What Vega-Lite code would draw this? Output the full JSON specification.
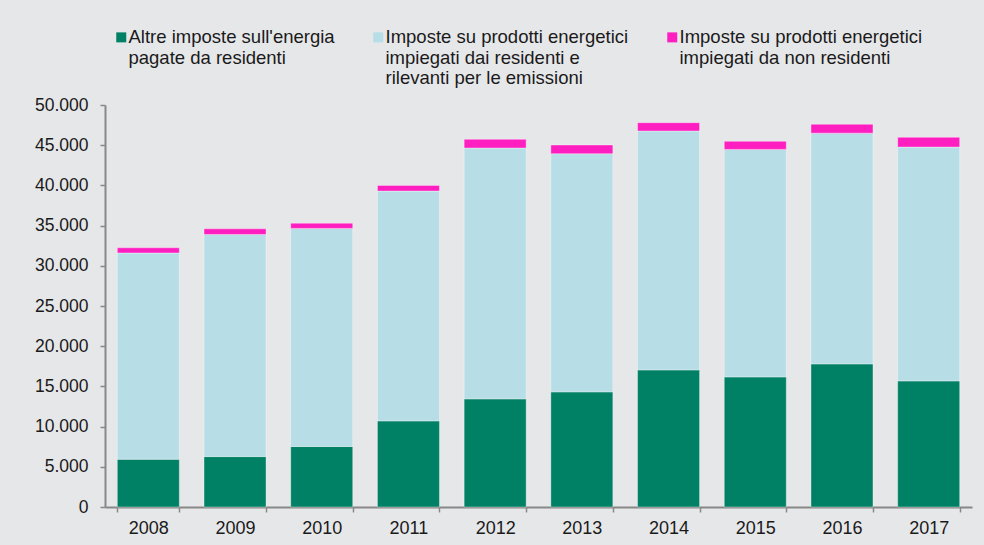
{
  "$schema": "https://vega.github.io/schema/vega-lite/v6.json",
  "width": 867,
  "height": 402,
  "autosize": {"type": "none"},
  "padding": {"left": 105, "top": 105, "right": 12, "bottom": 38},
  "background": "#E6E7E9",
  "data": {
    "values": [
      {"anno": "2008", "serie": "Altre imposte sull'energia|pagate da residenti| ", "ord": 1, "valore": 5940},
      {"anno": "2008", "serie": "Imposte su prodotti energetici|impiegati dai residenti e|rilevanti per le emissioni", "ord": 2, "valore": 25660},
      {"anno": "2008", "serie": "Imposte su prodotti energetici|impiegati da non residenti| ", "ord": 3, "valore": 640},
      {"anno": "2009", "serie": "Altre imposte sull'energia|pagate da residenti| ", "ord": 1, "valore": 6270},
      {"anno": "2009", "serie": "Imposte su prodotti energetici|impiegati dai residenti e|rilevanti per le emissioni", "ord": 2, "valore": 27630},
      {"anno": "2009", "serie": "Imposte su prodotti energetici|impiegati da non residenti| ", "ord": 3, "valore": 700},
      {"anno": "2010", "serie": "Altre imposte sull'energia|pagate da residenti| ", "ord": 1, "valore": 7520},
      {"anno": "2010", "serie": "Imposte su prodotti energetici|impiegati dai residenti e|rilevanti per le emissioni", "ord": 2, "valore": 27130},
      {"anno": "2010", "serie": "Imposte su prodotti energetici|impiegati da non residenti| ", "ord": 3, "valore": 650},
      {"anno": "2011", "serie": "Altre imposte sull'energia|pagate da residenti| ", "ord": 1, "valore": 10710},
      {"anno": "2011", "serie": "Imposte su prodotti energetici|impiegati dai residenti e|rilevanti per le emissioni", "ord": 2, "valore": 28590},
      {"anno": "2011", "serie": "Imposte su prodotti energetici|impiegati da non residenti| ", "ord": 3, "valore": 700},
      {"anno": "2012", "serie": "Altre imposte sull'energia|pagate da residenti| ", "ord": 1, "valore": 13450},
      {"anno": "2012", "serie": "Imposte su prodotti energetici|impiegati dai residenti e|rilevanti per le emissioni", "ord": 2, "valore": 31200},
      {"anno": "2012", "serie": "Imposte su prodotti energetici|impiegati da non residenti| ", "ord": 3, "valore": 1080},
      {"anno": "2013", "serie": "Altre imposte sull'energia|pagate da residenti| ", "ord": 1, "valore": 14320},
      {"anno": "2013", "serie": "Imposte su prodotti energetici|impiegati dai residenti e|rilevanti per le emissioni", "ord": 2, "valore": 29620},
      {"anno": "2013", "serie": "Imposte su prodotti energetici|impiegati da non residenti| ", "ord": 3, "valore": 1080},
      {"anno": "2014", "serie": "Altre imposte sull'energia|pagate da residenti| ", "ord": 1, "valore": 17050},
      {"anno": "2014", "serie": "Imposte su prodotti energetici|impiegati dai residenti e|rilevanti per le emissioni", "ord": 2, "valore": 29720},
      {"anno": "2014", "serie": "Imposte su prodotti energetici|impiegati da non residenti| ", "ord": 3, "valore": 1030},
      {"anno": "2015", "serie": "Altre imposte sull'energia|pagate da residenti| ", "ord": 1, "valore": 16180},
      {"anno": "2015", "serie": "Imposte su prodotti energetici|impiegati dai residenti e|rilevanti per le emissioni", "ord": 2, "valore": 28300},
      {"anno": "2015", "serie": "Imposte su prodotti energetici|impiegati da non residenti| ", "ord": 3, "valore": 1000},
      {"anno": "2016", "serie": "Altre imposte sull'energia|pagate da residenti| ", "ord": 1, "valore": 17800},
      {"anno": "2016", "serie": "Imposte su prodotti energetici|impiegati dai residenti e|rilevanti per le emissioni", "ord": 2, "valore": 28700},
      {"anno": "2016", "serie": "Imposte su prodotti energetici|impiegati da non residenti| ", "ord": 3, "valore": 1100},
      {"anno": "2017", "serie": "Altre imposte sull'energia|pagate da residenti| ", "ord": 1, "valore": 15680},
      {"anno": "2017", "serie": "Imposte su prodotti energetici|impiegati dai residenti e|rilevanti per le emissioni", "ord": 2, "valore": 29090},
      {"anno": "2017", "serie": "Imposte su prodotti energetici|impiegati da non residenti| ", "ord": 3, "valore": 1210}
    ]
  },
  "mark": {"type": "bar", "stroke": "#ffffff", "strokeOpacity": 0.35, "strokeWidth": 1},
  "encoding": {
    "x": {
      "field": "anno", "type": "ordinal",
      "scale": {"paddingInner": 0.285, "paddingOuter": 0.142},
      "axis": {
        "title": null, "labelAngle": 0, "domainColor": "#888888", "domainWidth": 2,
        "tickColor": "#888888", "tickSize": 5, "tickWidth": 1.5, "tickBand": "extent",
        "labelPadding": 7, "labelFontSize": 18, "labelColor": "#1a1a1a", "labelFont": "Liberation Sans"
      }
    },
    "y": {
      "field": "valore", "type": "quantitative", "stack": "zero",
      "scale": {"domain": [0, 50000], "nice": false},
      "axis": {
        "title": null, "grid": false, "values": [0,5000,10000,15000,20000,25000,30000,35000,40000,45000,50000],
        "labelExpr": "replace(format(datum.value, ','), ',', '.')",
        "domainColor": "#888888", "domainWidth": 2, "tickColor": "#888888", "tickSize": 5, "tickWidth": 1.5,
        "labelPadding": 12, "labelFontSize": 17.5, "labelColor": "#1a1a1a", "labelFont": "Liberation Sans"
      }
    },
    "color": {
      "field": "serie", "type": "nominal",
      "scale": {
        "domain": [
          "Altre imposte sull'energia|pagate da residenti| ",
          "Imposte su prodotti energetici|impiegati dai residenti e|rilevanti per le emissioni",
          "Imposte su prodotti energetici|impiegati da non residenti| "
        ],
        "range": ["#008064", "#B7DDE6", "#FF1FC1"]
      },
      "legend": {
        "title": null, "orient": "none", "legendX": 7, "legendY": -86,
        "direction": "horizontal", "columns": 3, "columnPadding": 34,
        "symbolType": "M-1,0.8H1V2.8H-1Z", "symbolSize": 100, "symbolStrokeWidth": 0,
        "labelExpr": "split(datum.label, '|')",
        "labelFontSize": 18.5, "labelFont": "Liberation Sans", "labelColor": "#1a1a1a",
        "labelLimit": 400, "labelOffset": -2, "labelBaseline": "top",
        "encode": {"labels": {"update": {"lineHeight": {"value": 22}}}}
      }
    },
    "order": {"field": "ord", "type": "quantitative"}
  },
  "config": {
    "view": {"stroke": null},
    "font": "Liberation Sans"
  }
}
